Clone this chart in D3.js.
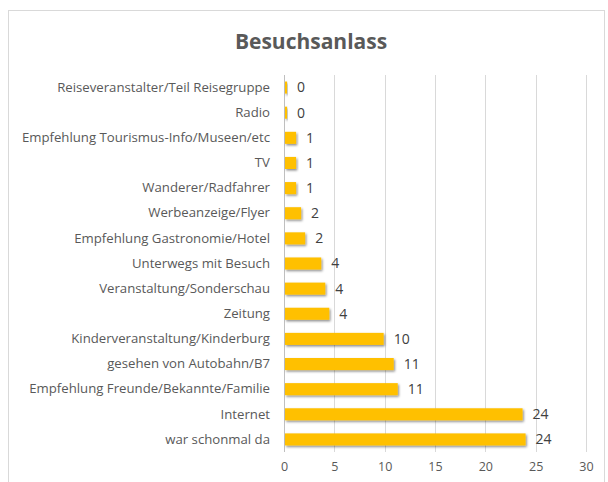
<!DOCTYPE html>
<html>
<head>
<meta charset="utf-8">
<script src="https://cdn.jsdelivr.net/npm/d3@7"></script>
<style>
  body { margin: 0; background: #fff; }
  svg { display: block; font-family: "Open Sans", sans-serif; }
</style>
</head>
<body>
<div id="chart"></div>
<script>
// categories from top to bottom, as in the chart
const categories = [
    "Reiseveranstalter/Teil Reisegruppe",
    "Radio",
    "Empfehlung Tourismus-Info/Museen/etc",
    "TV",
    "Wanderer/Radfahrer",
    "Werbeanzeige/Flyer",
    "Empfehlung Gastronomie/Hotel",
    "Unterwegs mit Besuch",
    "Veranstaltung/Sonderschau",
    "Zeitung",
    "Kinderveranstaltung/Kinderburg",
    "gesehen von Autobahn/B7",
    "Empfehlung Freunde/Bekannte/Familie",
    "Internet",
    "war schonmal da"
];
// bar lengths (the labels show them rounded)
const values = [0.2, 0.2, 1.1, 1.1, 1.1, 1.6, 2.0, 3.6, 4.0, 4.4, 9.8, 10.8, 11.2, 23.6, 23.9];
const xTicks = [0, 5, 10, 15, 20, 25, 30];

const width = 608,
      height = 482,
      margin = ({ top: 75, right: 22, bottom: 30, left: 284 });

const data = categories.map((c, i) => ({ cat: c, num: values[i] }));

let svg = d3.select("#chart")
    .append("svg")
    .attr("width", width)
    .attr("height", height);

// drop shadow for the bars
let defs = svg.append("defs");
let f = defs.append("filter").attr("id", "shadow")
    .attr("x", "-10%").attr("y", "-30%").attr("width", "130%").attr("height", "180%");
f.append("feDropShadow")
    .attr("dx", 1.2).attr("dy", 1.5).attr("stdDeviation", 0.9)
    .attr("flood-color", "#000").attr("flood-opacity", 0.45);

// chart frame
svg.append("rect")
    .attr("x", 8.5).attr("y", 10.5)
    .attr("width", 596).attr("height", 490)
    .attr("fill", "#fff")
    .attr("stroke", "#d9d9d9");

svg.append("text")
    .attr("x", 311).attr("y", 49)
    .attr("text-anchor", "middle")
    .attr("font-size", 21)
    .attr("font-weight", "bold")
    .attr("fill", "#595959")
    .text("Besuchsanlass");

let x = d3.scaleLinear()
    .domain([0, 30])
    .range([margin.left, width - margin.right]);

let y = d3.scaleBand()
    .domain(categories)
    .range([margin.top, height - margin.bottom])
    .paddingInner(0.52)
    .paddingOuter(0.26);

// gridlines
svg.append("g")
    .selectAll("line")
    .data(xTicks)
    .join("line")
    .attr("x1", d => Math.round(x(d)) + 0.5)
    .attr("x2", d => Math.round(x(d)) + 0.5)
    .attr("y1", margin.top)
    .attr("y2", height - margin.bottom)
    .attr("stroke", d => d === 0 ? "#bfbfbf" : "#d9d9d9");

// x axis labels
let xAxis = svg.append("g")
    .attr("transform", `translate(0,${height - margin.bottom})`)
    .call(d3.axisBottom(x).tickValues(xTicks).tickSize(0).tickPadding(10));
xAxis.select(".domain").remove();
xAxis.selectAll("text")
    .attr("font-family", "Open Sans, sans-serif")
    .attr("font-size", 12.5)
    .attr("fill", "#595959");

// category labels
let yAxis = svg.append("g")
    .attr("transform", `translate(${margin.left},0)`)
    .call(d3.axisLeft(y).tickSize(0).tickPadding(14));
yAxis.select(".domain").remove();
yAxis.selectAll("text")
    .attr("font-family", "Open Sans, sans-serif")
    .attr("font-size", 13.2)
    .attr("fill", "#595959");

let bar = svg.selectAll(".bar")
    .data(data)
    .join("g")
    .attr("class", "bar");

bar.append("rect")
    .attr("fill", "#ffc000")
    .attr("filter", "url(#shadow)")
    .attr("x", x(0) + 1)
    .attr("y", d => y(d.cat))
    .attr("width", d => x(d.num) - x(0))
    .attr("height", y.bandwidth());

bar.append("text")
    .text(d => Math.round(d.num))
    .attr("x", d => x(d.num) + 11)
    .attr("y", d => y(d.cat) + y.bandwidth() / 2)
    .attr("dy", "0.35em")
    .attr("font-size", 14)
    .attr("fill", "#404040");
</script>
</body>
</html>
